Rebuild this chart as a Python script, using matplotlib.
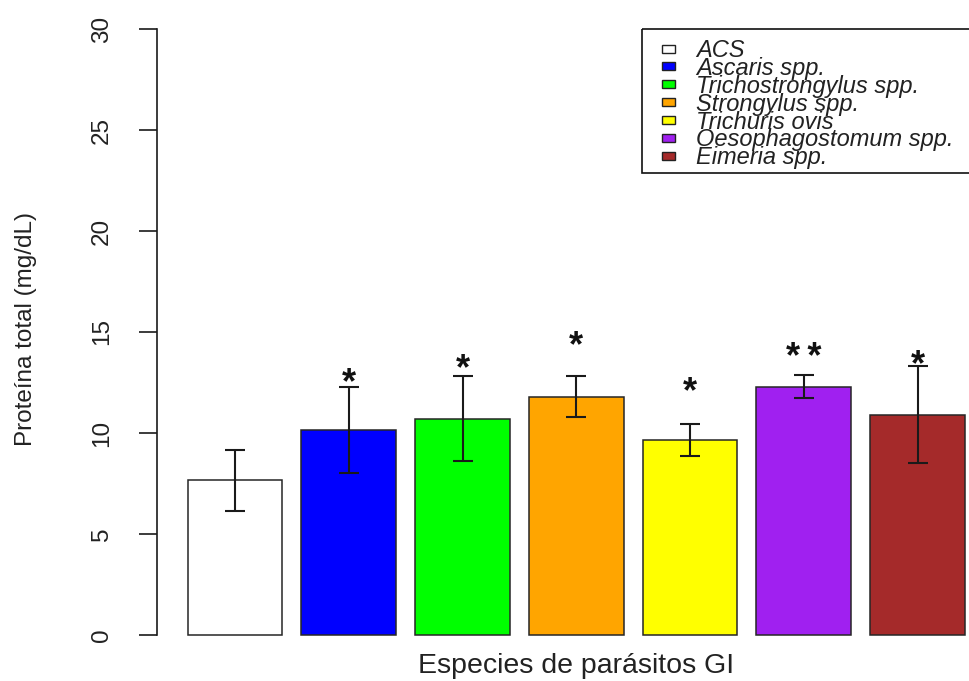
import matplotlib
matplotlib.use("Agg")
import matplotlib.pyplot as plt
import matplotlib.transforms as mtransforms
from matplotlib.patches import Rectangle
import numpy as np

plt.rcParams['font.family'] = ['Liberation Sans', 'DejaVu Sans']

# Total protein by GI parasite species: mean and error (mg/dL)
groups = ["ACS", "Ascaris spp.", "Trichostrongylus spp.", "Strongylus spp.",
          "Trichuris ovis", "Oesophagostomum spp.", "Eimeria spp."]
means = [7.65, 10.15, 10.7, 11.8, 9.65, 12.3, 10.9]
errors = [1.5, 2.15, 2.1, 1.0, 0.8, 0.55, 2.4]
colors = ["#FFFFFF", "#0000FF", "#00FF00", "#FFA500", "#FFFF00", "#A020F0", "#A52A2A"]
signif = ["", "*", "*", "*", "*", "*\u2009*", "*"]
signif_y = [None, 13.0, 13.7, 14.8, 12.55, 14.25, 13.9]
yticks = [0, 5, 10, 15, 20, 25, 30]

W, H = 970, 681
fig = plt.figure(figsize=(W / 100, H / 100), dpi=100)

# plot region (pixels): x from 156.6 to 996, y from 4.8 to 659.2
left, right, top, bottom = 156.6, 996.0, 4.8, 659.2
ax = fig.add_axes([left / W, 1 - bottom / H, (right - left) / W, (bottom - top) / H])
ax.patch.set_visible(False)

n = len(groups)
xpos = 0.7 + 1.2 * np.arange(n)
ax.bar(xpos, means, width=1.0, color=colors, edgecolor="#262626",
       linewidth=1.1, zorder=2)
ax.errorbar(xpos, means, yerr=errors, fmt="none", ecolor="#1a1a1a",
            elinewidth=1.5, capsize=7.5, capthick=1.5, zorder=3)

star_fs = 26
for x, lab, ys in zip(xpos, signif, signif_y):
    if lab:
        ax.annotate(lab, (x, ys), xytext=(0, -0.57 * star_fs),
                    textcoords="offset points", ha="center", va="baseline",
                    fontsize=star_fs, fontweight="bold", color="#111111", zorder=4)

ax.set_xlim(-0.128, 8.728)
ax.set_ylim(-1.2, 31.2)
for s in ("top", "right", "bottom"):
    ax.spines[s].set_visible(False)
ax.spines["left"].set_bounds(0, 30)
ax.spines["left"].set_linewidth(1.2)
ax.spines["left"].set_color("#1a1a1a")
ax.set_xticks([])
ax.set_yticks(yticks)
ax.set_yticklabels([str(t) for t in yticks], rotation=90, va="center")
ax.tick_params(axis="y", direction="out", length=12.9, width=1.2,
               color="#1a1a1a", pad=18.7, labelsize=17.5, labelcolor="#222222")

ax.set_ylabel("Proteína total (mg/dL)", fontsize=17.5, color="#222222")
ax.yaxis.set_label_coords((37 - left) / (right - left), 0.505)
fig.text(576 / W, 1 - 673 / H, "Especies de parásitos GI", ha="center",
         va="baseline", fontsize=20.5, color="#222222")

# legend box drawn in pixel coordinates (origin top-left)
px = mtransforms.Affine2D().scale(1 / W, -1 / H).translate(0, 1) + fig.transFigure
fig.add_artist(Rectangle((642, 29), 380, 144, transform=px, fill=False,
                         edgecolor="#111111", linewidth=1.2, clip_on=False))
leg_fs = 17
em_px = leg_fs * 100 / 72
for i, (lab, col) in enumerate(zip(groups, colors)):
    cy = 48.5 + 17.9 * i
    fig.add_artist(Rectangle((662, cy - 4), 13, 8, transform=px, facecolor=col,
                             edgecolor="#222222", linewidth=1.0, clip_on=False))
    fig.text(696, cy + 0.358 * em_px, lab, transform=px, ha="left",
             va="baseline", fontsize=leg_fs, style="italic", color="#222222")

fig.savefig("out.png", dpi=100)
